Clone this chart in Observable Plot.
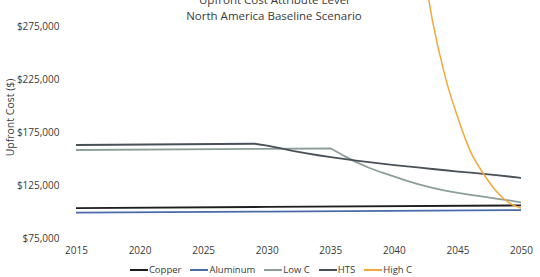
<!DOCTYPE html>
<html>
<head>
<meta charset="utf-8">
<script src="https://cdn.jsdelivr.net/npm/d3@7"></script>
<script src="https://cdn.jsdelivr.net/npm/@observablehq/plot@0.6"></script>
<style>
  body { margin: 0; background: #fff; }
  #wrap { position: relative; width: 540px; height: 277px; overflow: hidden; font-family: "Open Sans", sans-serif; color: #3a3a3a; }
  #wrap svg { position: absolute; left: 0; top: 0; }
  .title { position: absolute; left: 0; width: 548px; text-align: center; font-size: 11.5px; color: #3a3a3a; white-space: nowrap; }
  #legend { position: absolute; left: 0; width: 542px; top: 263px; display: flex; justify-content: center; gap: 9px; font-size: 9.5px; color: #3a3a3a; }
  #legend .item { display: flex; align-items: center; }
  #legend .sw { display: inline-block; width: 18px; height: 2px; margin-right: 1px; }
</style>
</head>
<body>
<div id="wrap">
  <div class="title" style="top:-8px">Upfront Cost Attribute Level</div>
  <div class="title" style="top:8px">North America Baseline Scenario</div>
  <div id="legend"></div>
</div>
<script>
// ---- data ----
const seriesNames = ["Copper", "Aluminum", "Low C", "HTS", "High C"];
const seriesColors = ["#1e1e22", "#4a6aa8", "#8c9e97", "#4a5058", "#f2a83a"];

const copperYears = [2015, 2030, 2050];
const copperValues = [103800, 104900, 106300];

const aluminumYears = [2015, 2030, 2050];
const aluminumValues = [99400, 100500, 101900];

const lowCYears = [2015, 2035, 2036, 2037, 2038, 2039, 2040, 2041, 2042, 2043, 2044, 2045, 2046, 2047, 2048, 2049, 2050];
const lowCValues = [158800, 160200, 153500, 147300, 142000, 137500, 133500, 129600, 126000, 123000, 120400, 118200, 116300, 114600, 112800, 111000, 109100];

const htsYears = [2015, 2029, 2030, 2031, 2032, 2033, 2034, 2035, 2036, 2037, 2038, 2039, 2040, 2041, 2042, 2043, 2044, 2045, 2046, 2047, 2048, 2049, 2050];
const htsValues = [163500, 164700, 163000, 160500, 158000, 155800, 153800, 152000, 150300, 148700, 147200, 145800, 144500, 143200, 142000, 140800, 139600, 138400, 137300, 136200, 135000, 133700, 132300];

const highCYears = [2042, 2043, 2044, 2045, 2046, 2047, 2048, 2049, 2050];
const highCValues = [355000, 281000, 228000, 189000, 157000, 136500, 120000, 109000, 103500];

const xTicks = [2015, 2020, 2025, 2030, 2035, 2040, 2045, 2050];
const yTicks = [75000, 125000, 175000, 225000, 275000];

// ---- build table ----
const allYears = [copperYears, aluminumYears, lowCYears, htsYears, highCYears];
const allValues = [copperValues, aluminumValues, lowCValues, htsValues, highCValues];
const rows = [];
seriesNames.forEach((name, i) => {
  allYears[i].forEach((yr, j) => rows.push({series: name, year: yr, value: allValues[i][j]}));
});
const fmt = d3.format("$,");

const lineOpts = (name, extra = {}) => ({
  x: "year", y: "value", stroke: "series", strokeWidth: 1.8,
  filter: d => d.series === name, clip: true, ...extra
});

const chart = Plot.plot({
  width: 540,
  height: 277,
  marginLeft: 76,
  marginRight: 19,
  marginTop: 0,
  marginBottom: 39,
  style: {fontFamily: "Open Sans, sans-serif", fontSize: "10px", color: "#3a3a3a", background: "transparent"},
  x: {domain: [2015, 2050]},
  y: {domain: [75000, 300300]},
  color: {domain: seriesNames, range: seriesColors},
  marks: [
    Plot.axisX({ticks: xTicks, tickFormat: d => String(d), tickSize: 0, tickPadding: 8, label: null, fontSize: 10}),
    Plot.axisY({ticks: yTicks, tickFormat: fmt, tickSize: 0, tickPadding: 17, label: null, fontSize: 10}),
    Plot.text(["Upfront Cost ($)"], {text: d => d, frameAnchor: "left", textAnchor: "middle", dx: -66, dy: -2, rotate: -90, fontSize: 10.5, fill: "#3a3a3a"}),
    Plot.line(rows, lineOpts("Aluminum")),
    Plot.line(rows, lineOpts("Copper")),
    Plot.line(rows, lineOpts("Low C")),
    Plot.line(rows, lineOpts("HTS")),
    Plot.line(rows, lineOpts("High C", {curve: "monotone-x", strokeWidth: 1.5}))
  ]
});
document.getElementById("wrap").prepend(chart);

const legend = document.getElementById("legend");
seriesNames.forEach((name, i) => {
  const it = document.createElement("span");
  it.className = "item";
  const sw = document.createElement("span");
  sw.className = "sw";
  sw.style.background = seriesColors[i];
  it.appendChild(sw);
  it.appendChild(document.createTextNode(name));
  legend.appendChild(it);
});
</script>
</body>
</html>
